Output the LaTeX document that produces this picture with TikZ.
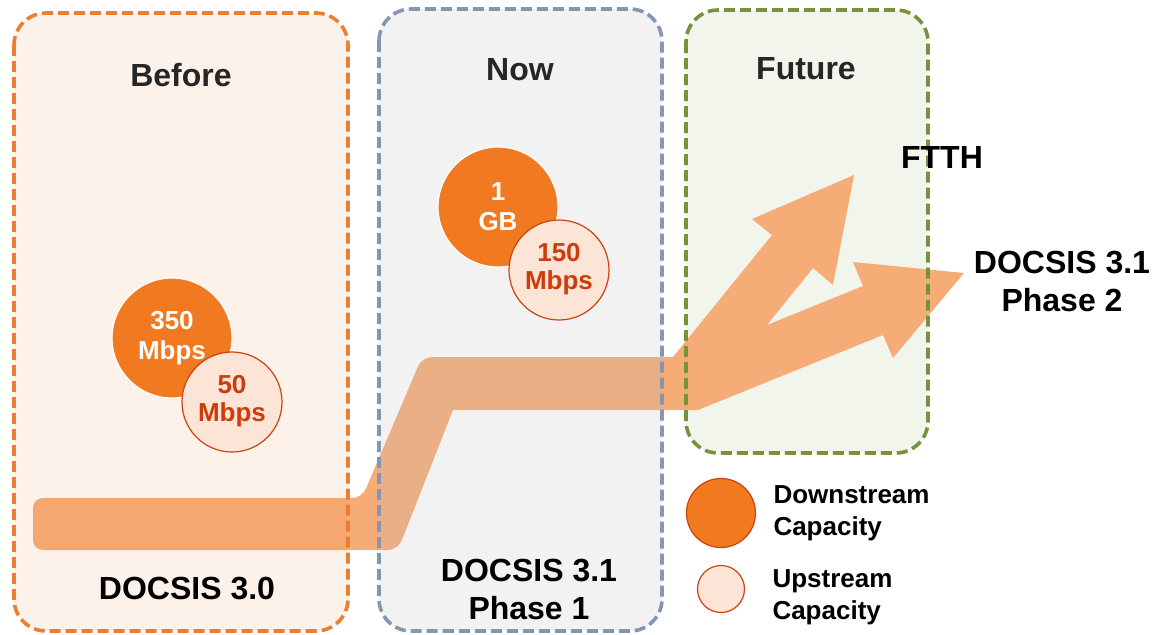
\documentclass[tikz,border=0pt]{standalone}
\usepackage{fontspec}
\setmainfont{Liberation Sans}
\usetikzlibrary{positioning}
\definecolor{capOrange}{RGB}{241,121,32}
\definecolor{capEdge}{RGB}{207,66,14}
\definecolor{upFill}{RGB}{252,228,214}
\definecolor{upText}{RGB}{204,60,12}
\definecolor{bandOrange}{RGB}{245,172,118}
\definecolor{beforeLine}{RGB}{237,125,49}
\definecolor{nowLine}{RGB}{132,150,176}
\definecolor{futureLine}{RGB}{118,146,60}
\definecolor{futureFill}{RGB}{241,245,235}
\definecolor{headGray}{RGB}{38,38,38}

\begin{document}
\begin{tikzpicture}[x=0.5pt,y=-0.5pt,
  box/.style={line width=1.8pt,dash pattern=on 5.5pt off 2.5pt,rounded corners=16pt},
  heading/.style={inner sep=0pt,text=headGray,font=\fontsize{16pt}{19pt}\selectfont\bfseries},
  tag/.style={inner sep=0pt,align=center,font=\fontsize{16pt}{19pt}\selectfont\bfseries},
  downcap/.style={circle,fill=capOrange,draw=white,line width=0.6pt,inner sep=0pt,minimum size=60pt,
    align=center,text=white,font=\fontsize{13pt}{15pt}\selectfont\bfseries},
  upcap/.style={circle,fill=upFill,draw=capEdge,line width=0.6pt,inner sep=0pt,minimum size=50pt,
    align=center,text=upText,font=\fontsize{13pt}{14pt}\selectfont\bfseries},
  legtext/.style={inner sep=0pt,align=left,font=\fontsize{13pt}{16pt}\selectfont\bfseries}]
  \useasboundingbox (0,0) rectangle (1153,634);

  % future background sits under the path
  \fill[futureFill,rounded corners=16pt] (686,10) rectangle (928,453);

  % migration path
  \fill[bandOrange] [rounded corners=5pt] (33,550) -- (33,498) -- (362,498) -- (422,357)
    [sharp corners] -- (673,357) -- (772,235) -- (752,219) -- (854,175) -- (833,285)
    -- (813,268) -- (767,325) -- (863,286) -- (853,262) -- (964,273) -- (893,358)
    -- (883,335) -- (698,410) -- (453,410) [rounded corners=5pt] -- (398,550) -- cycle;

  % the three periods
  \draw[box,draw=beforeLine,fill=beforeLine,fill opacity=0.1] (14,13) rectangle (348,631);
  \draw[box,draw=nowLine,fill=black!25,fill opacity=0.2] (379,9) rectangle (662,631);
  \draw[box,draw=futureLine] (686,10) rectangle (928,453);

  \node[heading] (before) at (181,75) {Before};
  \node[heading] (now) at (520,70) {Now};
  \node[heading] (future) at (806,69) {Future};

  \node[downcap] (dc350) at (172,338) {350\\Mbps};
  \node[upcap] (uc50) at (232,402) {\raisebox{-2pt}{\begin{tabular}{@{}c@{}}50\\Mbps\end{tabular}}};
  \node[downcap] (dc1g) at (498,207) {1\\GB};
  \node[upcap] (uc150) at (559,270) {\raisebox{-2pt}{\begin{tabular}{@{}c@{}}150\\Mbps\end{tabular}}};

  \node[tag] (d30) at (187,588) {DOCSIS 3.0};
  \node[tag] (d31a) at (529,589) {DOCSIS 3.1\\Phase 1};
  \node[tag] (ftth) at (942,157) {FTTH};
  \node[tag] (d31b) at (1062,281) {DOCSIS 3.1\\Phase 2};

  % legend
  \node[downcap,minimum size=34.5pt,draw=capEdge] (legdown) at (721,513) {};
  \node[upcap,minimum size=23.5pt] (legup) at (721,589) {};
  \node[legtext,right=8.5pt of legdown] (legdowntext) {Downstream\\Capacity};
  \node[legtext,right=13.5pt of legup,yshift=-4pt] (leguptext) {Upstream\\Capacity};
\end{tikzpicture}
\end{document}
